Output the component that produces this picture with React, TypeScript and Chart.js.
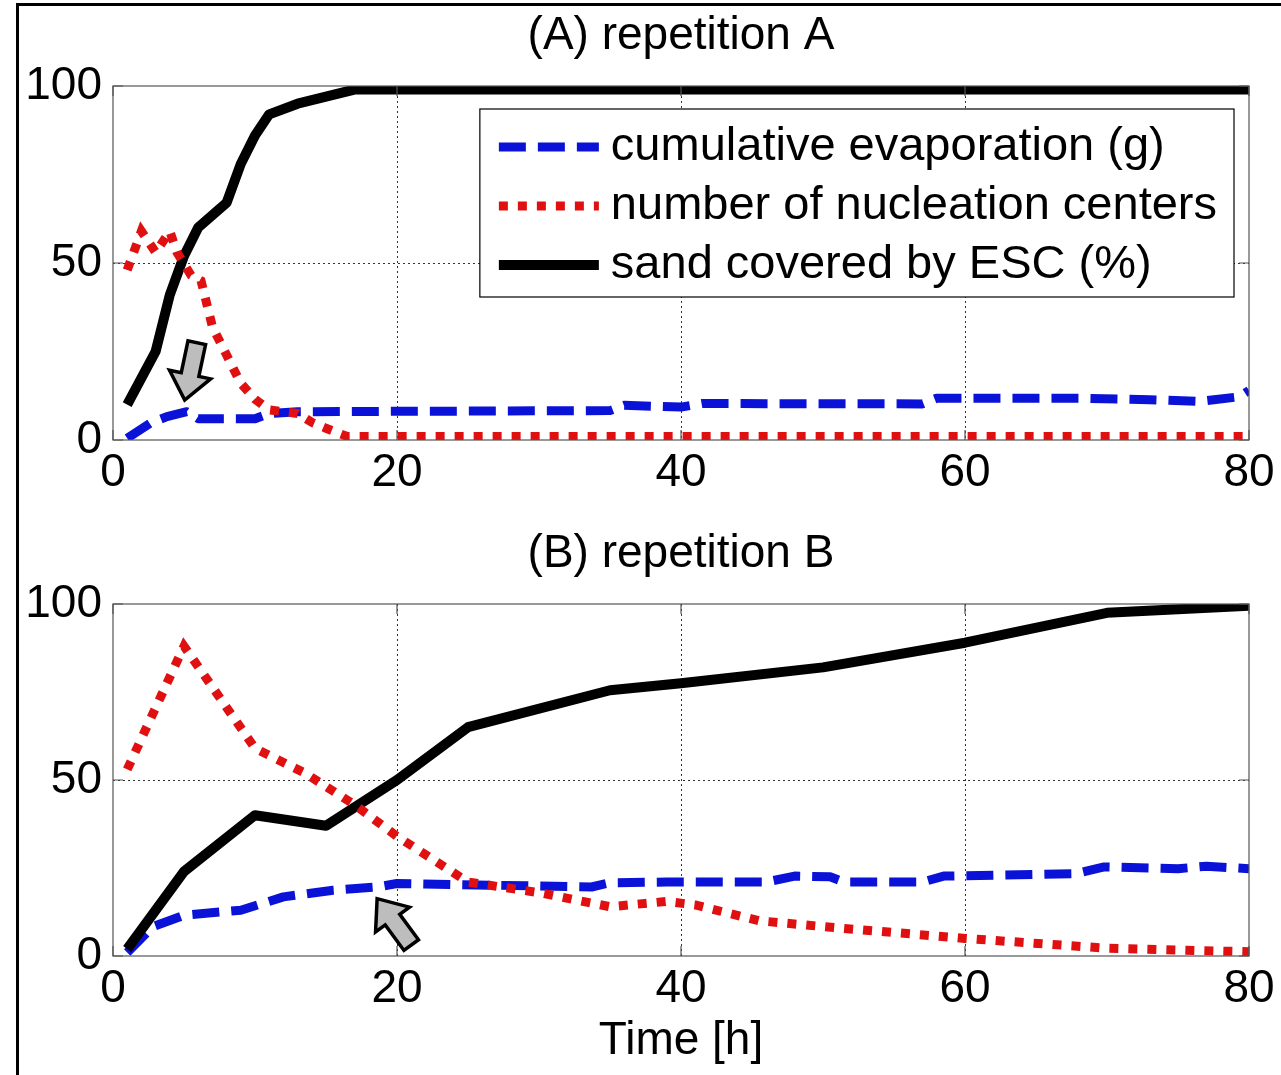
import React, { useEffect, useRef } from "react";
import { Chart, registerables } from "chart.js";

Chart.register(...registerables);

const FONT = '"Liberation Sans", Arial, Helvetica, sans-serif';
const FONT_SIZE = 46;

// ---------- shared axis values ----------
const xTickValues = [0, 20, 40, 60, 80];
const yTickValues = [0, 50, 100];
const xAxisTitle = "Time [h]";
const titleA = "(A) repetition A";
const titleB = "(B) repetition B";

const seriesLabels = [
  "cumulative evaporation (g)",
  "number of nucleation centers",
  "sand covered by ESC (%)",
];

// ---------- repetition A ----------
const evapA_t = [1, 2.6, 3.8, 5.2, 6, 10, 11, 13, 35, 36, 40, 41.5, 57, 58, 68, 73, 76.5, 79.3, 80];
const evapA_v = [0.5, 4.7, 6.6, 8, 6, 6, 7.5, 8, 8.3, 9.8, 9.3, 10.3, 10.2, 11.8, 11.8, 11.4, 10.9, 12.2, 14];

const nuclA_t = [1, 2, 3, 4, 4.5, 5.5, 6.2, 7, 8, 9, 10, 11, 13, 14, 15, 16.5, 80];
const nuclA_v = [48, 59, 53, 59, 53, 46.5, 45, 32, 24, 16, 11.5, 8.5, 7.5, 5, 3.3, 1, 1];

const sandA_t = [1, 3, 4, 5, 6, 8, 9, 10, 11, 13, 17, 80];
const sandA_v = [10, 25, 41, 52, 60, 67, 78, 86, 92, 95, 99, 99];

// ---------- repetition B ----------
const evapB_t = [1, 2.8, 5, 9, 12, 15.5, 18.6, 20, 33.7, 35, 39, 46, 48, 50.5, 51.5, 57, 58.5, 67.8, 69.8, 75, 77, 80];
const evapB_v = [1, 8.3, 11.6, 13, 16.8, 18.7, 19.6, 20.6, 19.6, 20.8, 21, 21, 22.7, 22.5, 21, 21, 22.7, 23.4, 25.3, 24.8, 25.5, 24.8];

const nuclB_t = [1, 5, 10, 13.5, 17, 20, 25, 30, 35, 39, 41, 45.5, 51, 60, 70, 80];
const nuclB_v = [53, 88, 59, 52, 43, 34, 21, 18, 14, 15.5, 14.5, 10, 8, 5, 2.2, 1.2];

const sandB_t = [1, 5, 10, 15, 20, 25, 35, 40, 50, 60, 70, 80];
const sandB_v = [2, 24, 40, 37, 50, 65, 75.5, 77.5, 82, 89, 97.5, 99.5];

// ---------- annotation arrows (data coordinates: tail -> tip) ----------
const arrowA = { tail: [5.9, 27.5], tip: [5.05, 11.3] };
const arrowB = { tail: [21.0, 3.1], tip: [18.6, 16.3] };

const BLUE = "#0a12d8";
const RED = "#e01010";
const BLACK = "#000000";

const zip = (t: number[], v: number[]) => t.map((x, i) => ({ x, y: v[i] }));

function makeDatasets(et: number[], ev: number[], nt: number[], nv: number[], st: number[], sv: number[]) {
  return [
    {
      label: seriesLabels[0],
      data: zip(et, ev),
      borderColor: BLUE,
      backgroundColor: BLUE,
      borderWidth: 9,
      borderDash: [27, 12],
      borderCapStyle: "butt",
      borderJoinStyle: "round",
      pointRadius: 0,
      tension: 0,
      fill: false,
      order: 3,
    },
    {
      label: seriesLabels[1],
      data: zip(nt, nv),
      borderColor: RED,
      backgroundColor: RED,
      borderWidth: 9,
      borderDash: [9, 10],
      borderCapStyle: "butt",
      borderJoinStyle: "miter",
      pointRadius: 0,
      tension: 0,
      fill: false,
      order: 1,
    },
    {
      label: seriesLabels[2],
      data: zip(st, sv),
      borderColor: BLACK,
      backgroundColor: BLACK,
      borderWidth: 10,
      borderCapStyle: "butt",
      borderJoinStyle: "round",
      pointRadius: 0,
      tension: 0,
      fill: false,
      order: 2,
    },
  ];
}

function drawArrow(ctx: CanvasRenderingContext2D, x0: number, y0: number, x1: number, y1: number) {
  const dx = x1 - x0;
  const dy = y1 - y0;
  const len = Math.hypot(dx, dy);
  const ux = dx / len;
  const uy = dy / len;
  const nx = -uy;
  const ny = ux;
  const shaft = 9;
  const head = 21;
  const headLen = 26;
  const bx = x1 - ux * headLen;
  const by = y1 - uy * headLen;
  ctx.save();
  ctx.beginPath();
  ctx.moveTo(x0 + nx * shaft, y0 + ny * shaft);
  ctx.lineTo(bx + nx * shaft, by + ny * shaft);
  ctx.lineTo(bx + nx * head, by + ny * head);
  ctx.lineTo(x1, y1);
  ctx.lineTo(bx - nx * head, by - ny * head);
  ctx.lineTo(bx - nx * shaft, by - ny * shaft);
  ctx.lineTo(x0 - nx * shaft, y0 - ny * shaft);
  ctx.closePath();
  ctx.fillStyle = "#bdbdbd";
  ctx.fill();
  ctx.lineWidth = 3.5;
  ctx.strokeStyle = "#000";
  ctx.lineJoin = "miter";
  ctx.stroke();
  ctx.restore();
}

function makeDecor(title: string, arrow: { tail: number[]; tip: number[] }, showLegend: boolean) {
  return {
    id: "decor",
    afterDatasetsDraw(chart: any) {
      const { ctx, chartArea, scales } = chart;
      const { left, right, top, bottom } = chartArea;
      // title centred on the plot box
      ctx.save();
      ctx.font = `${FONT_SIZE}px ${FONT}`;
      ctx.fillStyle = "#000";
      ctx.textAlign = "center";
      ctx.textBaseline = "middle";
      ctx.fillText(title, (left + right) / 2, top - 50);
      ctx.restore();

      // frame
      ctx.save();
      ctx.strokeStyle = "#555";
      ctx.lineWidth = 1.2;
      ctx.strokeRect(left, top, right - left, bottom - top);
      // inner tick marks
      ctx.beginPath();
      const tl = 10;
      xTickValues.forEach((v) => {
        const px = scales.x.getPixelForValue(v);
        ctx.moveTo(px, bottom);
        ctx.lineTo(px, bottom - tl);
        ctx.moveTo(px, top);
        ctx.lineTo(px, top + tl);
      });
      yTickValues.forEach((v) => {
        const py = scales.y.getPixelForValue(v);
        ctx.moveTo(left, py);
        ctx.lineTo(left + tl, py);
        ctx.moveTo(right, py);
        ctx.lineTo(right - tl, py);
      });
      ctx.stroke();
      ctx.restore();

      // arrow
      drawArrow(
        ctx,
        scales.x.getPixelForValue(arrow.tail[0]),
        scales.y.getPixelForValue(arrow.tail[1]),
        scales.x.getPixelForValue(arrow.tip[0]),
        scales.y.getPixelForValue(arrow.tip[1])
      );

      if (showLegend) {
        ctx.save();
        ctx.font = `47px ${FONT}`;
        const ds = chart.data.datasets;
        const widths = ds.map((d: any) => ctx.measureText(d.label).width);
        const maxW = Math.max(...widths);
        const sampleLeft = 19;
        const sampleLen = 100;
        const textGap = 12;
        const padRight = 17;
        const boxW = sampleLeft + sampleLen + textGap + maxW + padRight;
        const rowH = 59;
        const boxH = 188;
        const boxRight = right - 15;
        const boxLeft = boxRight - boxW;
        const boxTop = top + 23;
        ctx.fillStyle = "#fff";
        ctx.fillRect(boxLeft, boxTop, boxW, boxH);
        ctx.strokeStyle = "#000";
        ctx.lineWidth = 1.2;
        ctx.strokeRect(boxLeft, boxTop, boxW, boxH);
        ds.forEach((d: any, i: number) => {
          const cy = boxTop + 38 + i * rowH;
          ctx.save();
          ctx.beginPath();
          ctx.strokeStyle = d.borderColor;
          ctx.lineWidth = d.borderWidth;
          ctx.lineCap = "butt";
          ctx.setLineDash(d.borderDash || []);
          ctx.moveTo(boxLeft + sampleLeft, cy);
          ctx.lineTo(boxLeft + sampleLeft + sampleLen, cy);
          ctx.stroke();
          ctx.restore();
          ctx.fillStyle = "#000";
          ctx.textBaseline = "middle";
          ctx.textAlign = "left";
          ctx.fillText(d.label, boxLeft + sampleLeft + sampleLen + textGap, cy);
        });
        ctx.restore();
      }
    },
  };
}

function makeConfig(
  title: string,
  datasets: any[],
  arrow: { tail: number[]; tip: number[] },
  showLegend: boolean,
  xAxisHeight: number,
  showXTitle: boolean
): any {
  const gridColor = (edgeMin: number, edgeMax: number) => (c: any) =>
    c.tick && (c.tick.value === edgeMin || c.tick.value === edgeMax) ? "rgba(0,0,0,0)" : "#333";
  return {
    type: "line",
    data: { datasets },
    options: {
      responsive: false,
      animation: false,
      devicePixelRatio: 1,
      layout: { padding: { left: 0, right: 32, top: 86, bottom: 0 } },
      plugins: {
        legend: { display: false },
        tooltip: { enabled: false },
        title: { display: false },
      },
      scales: {
        x: {
          type: "linear",
          min: 0,
          max: 80,
          afterBuildTicks: (s: any) => {
            s.ticks = xTickValues.map((v) => ({ value: v }));
          },
          afterFit: (s: any) => {
            s.height = xAxisHeight;
          },
          ticks: {
            color: "#000",
            padding: 6,
            maxRotation: 0,
            autoSkip: false,
            font: { family: FONT, size: FONT_SIZE, lineHeight: 1.2 },
          },
          grid: {
            drawTicks: false,
            color: gridColor(0, 80),
            lineWidth: 1,
          },
          border: { display: false, dash: [2, 3] },
          title: {
            display: showXTitle,
            text: xAxisTitle,
            color: "#000",
            font: { family: FONT, size: FONT_SIZE, lineHeight: 1.2 },
            padding: { top: 0, bottom: 6 },
          },
        },
        y: {
          type: "linear",
          min: 0,
          max: 100,
          afterBuildTicks: (s: any) => {
            s.ticks = yTickValues.map((v) => ({ value: v }));
          },
          afterFit: (s: any) => {
            s.width = 113;
          },
          ticks: {
            color: "#000",
            padding: 11,
            autoSkip: false,
            font: { family: FONT, size: FONT_SIZE, lineHeight: 1.2 },
          },
          grid: {
            drawTicks: false,
            color: gridColor(0, 100),
            lineWidth: 1,
          },
          border: { display: false, dash: [2, 3] },
        },
      },
    },
    plugins: [makeDecor(title, arrow, showLegend)],
  };
}

function ChartCanvas(props: { config: () => any; top: number; height: number }) {
  const ref = useRef<HTMLCanvasElement | null>(null);
  useEffect(() => {
    if (!ref.current) return;
    const chart = new Chart(ref.current, props.config());
    return () => chart.destroy();
  }, []);
  return (
    <canvas
      ref={ref}
      width={1281}
      height={props.height}
      style={{ position: "absolute", left: 0, top: props.top, width: 1281, height: props.height, display: "block" }}
    />
  );
}

export default function App() {
  return (
    <div
      style={{
        position: "absolute",
        left: 0,
        top: 0,
        width: 1281,
        height: 1075,
        background: "#fff",
        overflow: "hidden",
      }}
    >
      <ChartCanvas
        top={0}
        height={518}
        config={() =>
          makeConfig(titleA, makeDatasets(evapA_t, evapA_v, nuclA_t, nuclA_v, sandA_t, sandA_v), arrowA, true, 78, false)
        }
      />
      <ChartCanvas
        top={518}
        height={557}
        config={() =>
          makeConfig(titleB, makeDatasets(evapB_t, evapB_v, nuclB_t, nuclB_v, sandB_t, sandB_v), arrowB, false, 119, true)
        }
      />
      <div
        style={{
          position: "absolute",
          left: 16,
          top: 3,
          width: 1281,
          height: 1100,
          borderTop: "3px solid #000",
          borderLeft: "3px solid #000",
          pointerEvents: "none",
        }}
      />
    </div>
  );
}
